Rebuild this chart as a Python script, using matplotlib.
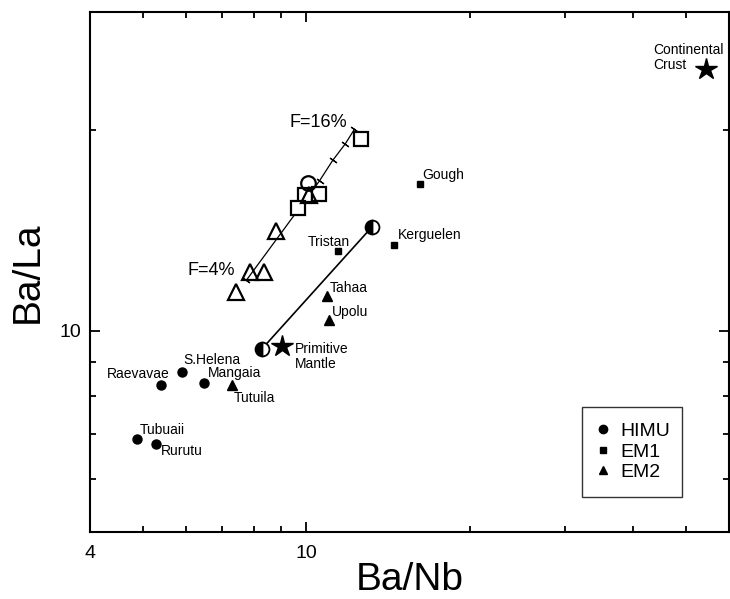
import matplotlib
matplotlib.use('Agg')
import matplotlib.pyplot as plt

plt.rcParams['font.family'] = ['Liberation Sans', 'DejaVu Sans']

# ---------------------------------------------------------------- data (Ba/Nb, Ba/La)
himu_names = ['Raevavae', 'S.Helena', 'Mangaia', 'Tubuaii', 'Rurutu']
himu_x = [5.40, 5.90, 6.48, 4.89, 5.28]
himu_y = [8.29, 8.68, 8.37, 6.89, 6.77]

em1_names = ['Gough', 'Kerguelen', 'Tristan']
em1_x = [16.2, 14.5, 11.43]
em1_y = [16.6, 13.44, 13.17]

em2_names = ['Tahaa', 'Upolu', 'Tutuila']
em2_x = [10.92, 11.03, 7.31]
em2_y = [11.29, 10.37, 8.29]

pm_x, pm_y = 9.02, 9.51          # primitive mantle
cc_x, cc_y = 54.4, 24.65         # continental crust

# mixing line between the two half-filled end members
mix_x = [8.29, 13.2]
mix_y = [9.40, 14.3]

# melting curve, F = 4% ... 16%
melt_x = [7.76, 10.58, 11.19, 11.80, 12.27]
melt_y = [11.91, 16.78, 18.01, 19.06, 20.05]

# open symbols = model melts
open_sq_x = [12.59, 9.93, 10.55, 9.64]
open_sq_y = [19.36, 15.99, 16.03, 15.28]
open_ci_x = [10.07]
open_ci_y = [16.64]
open_tr_x = [10.14, 8.78, 7.89, 8.35, 7.44]
open_tr_y = [15.98, 14.13, 12.25, 12.25, 11.44]

fig = plt.figure(figsize=(7.3, 5.99), dpi=100)
ax = fig.add_axes([90 / 730, 1 - 532 / 599, 639 / 730, 519.7 / 599])
ax.set_xscale('log')
ax.set_yscale('log')
ax.set_xlim(4, 60)
ax.set_ylim(5, 30)

# lines
ax.plot(melt_x, melt_y, color='black', lw=0.9, zorder=2)
ax.plot(melt_x, melt_y, linestyle='none', marker=(2, 2, 55), ms=6, mew=0.9,
        color='black', zorder=2)
ax.plot(mix_x, mix_y, color='black', lw=1.2, zorder=2)

# open symbols
ax.plot(open_sq_x, open_sq_y, 's', ms=10, mfc='white', mec='black', mew=1.6, zorder=3)
ax.plot(open_tr_x, open_tr_y, '^', ms=12, mfc='none', mec='black', mew=1.6, zorder=4)
ax.plot(open_ci_x, open_ci_y, 'o', ms=10.5, mfc='none', mec='black', mew=1.6, zorder=4)

# half-filled end members
for hx, hy in zip(mix_x, mix_y):
    ax.plot(hx, hy, marker='o', ms=10, fillstyle='left', markerfacecolor='black',
            markerfacecoloralt='white', markeredgecolor='black', mew=1.3, zorder=5)

# filled symbols
ax.plot(himu_x, himu_y, 'o', ms=6.5, color='black', zorder=5)
ax.plot(em1_x, em1_y, 's', ms=5, color='black', zorder=5)
ax.plot(em2_x, em2_y, '^', ms=6.5, color='black', zorder=5)
ax.plot([pm_x, cc_x], [pm_y, cc_y], '*', ms=16, color='black', zorder=5)

# labels (offsets in pixels)
lab_kw = dict(textcoords='offset pixels', fontsize=10, va='center')
offsets = {
    'Raevavae': (-54, 11), 'S.Helena': (2, 12), 'Mangaia': (4, 10),
    'Tubuaii': (2, 9), 'Rurutu': (5, -7),
    'Gough': (2, 9), 'Kerguelen': (4, 10), 'Tristan': (-30, 9),
    'Tahaa': (3, 8), 'Upolu': (3, 8), 'Tutuila': (1, -13),
}
for names, xs, ys in [(himu_names, himu_x, himu_y), (em1_names, em1_x, em1_y),
                      (em2_names, em2_x, em2_y)]:
    for n, x, y in zip(names, xs, ys):
        ax.annotate(n, (x, y), xytext=offsets[n], **lab_kw)

ax.annotate('Primitive\nMantle', (pm_x, pm_y), xytext=(13, -11), linespacing=1.05, **lab_kw)
ax.annotate('Continental\nCrust', (cc_x, cc_y), xytext=(-53, 12), linespacing=1.05, **lab_kw)
ax.annotate('F=16%', (melt_x[-1], melt_y[-1]), xytext=(-65, 7),
            textcoords='offset pixels', fontsize=13, va='center')
ax.annotate('F=4%', (melt_x[0], melt_y[0]), xytext=(-59, 10),
            textcoords='offset pixels', fontsize=13, va='center')

# legend
h1, = ax.plot([], [], 'o', ms=6, color='black', label='HIMU')
h2, = ax.plot([], [], 's', ms=5, color='black', label='EM1')
h3, = ax.plot([], [], '^', ms=6, color='black', label='EM2')
leg = ax.legend(handles=[h1, h2, h3], loc='lower left',
                bbox_to_anchor=(0.7695, 0.068, 0.1565, 0.19), mode='expand',
                fontsize=14, frameon=True, fancybox=False, borderpad=0.8,
                handlelength=0.6, handletextpad=0.6, labelspacing=0.15,
                borderaxespad=0)
leg.get_frame().set_edgecolor('black')
leg.get_frame().set_linewidth(1.0)

# axes / ticks
ax.set_xticks([4, 10])
ax.set_xticklabels(['4', '10'])
ax.set_xticks([5, 6, 7, 8, 9, 20, 30, 40, 50], minor=True)
ax.set_yticks([10])
ax.set_yticklabels(['10'])
ax.set_yticks([6, 7, 8, 9, 20], minor=True)
ax.xaxis.set_minor_formatter(plt.NullFormatter())
ax.yaxis.set_minor_formatter(plt.NullFormatter())
ax.tick_params(which='both', direction='in', top=True, right=True, width=1.3, labelsize=14)
ax.tick_params(which='major', length=7)
ax.tick_params(which='minor', length=4)
ax.tick_params(axis='x', pad=9)
ax.tick_params(axis='y', pad=6)
for s in ax.spines.values():
    s.set_linewidth(1.5)

ax.set_xlabel('Ba/Nb', fontsize=28, labelpad=0)
ax.set_ylabel('Ba/La', fontsize=28, labelpad=10)

fig.savefig('out.png', dpi=100)
